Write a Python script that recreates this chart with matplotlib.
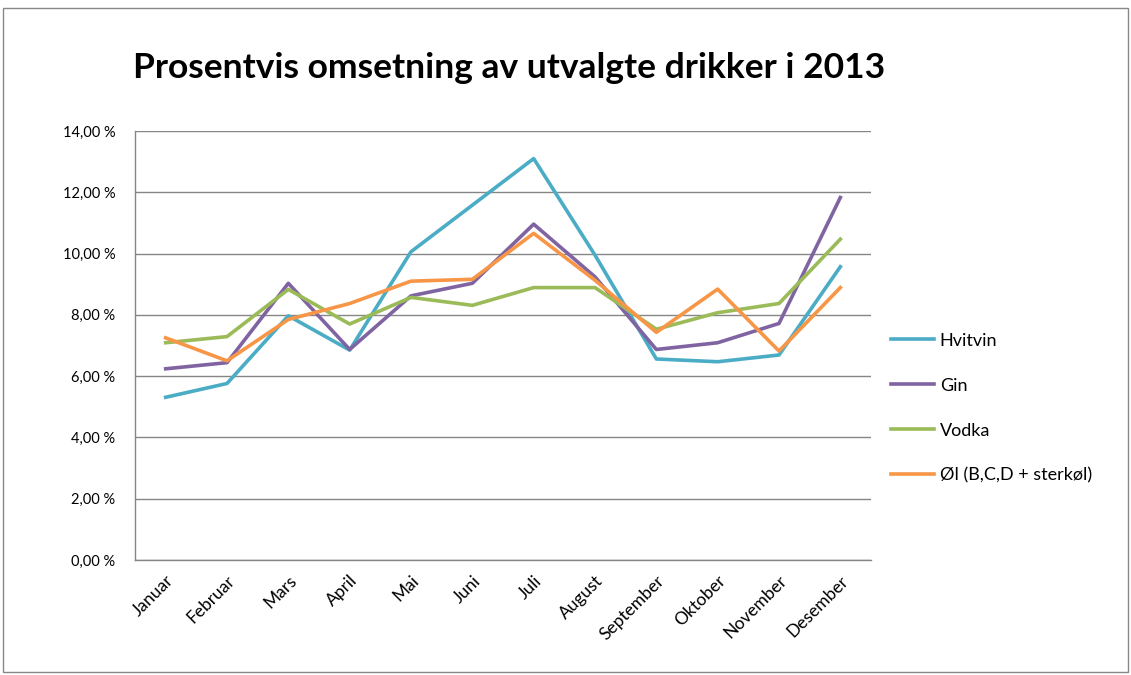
import matplotlib.pyplot as plt
from matplotlib.patches import Rectangle
from matplotlib.ticker import FuncFormatter

months = ['Januar', 'Februar', 'Mars', 'April', 'Mai', 'Juni', 'Juli',
          'August', 'September', 'Oktober', 'November', 'Desember']
hvitvin = [5.31, 5.76, 7.97, 6.85, 10.06, 11.58, 13.10, 9.95, 6.56, 6.47, 6.69, 9.57]
gin = [6.24, 6.44, 9.03, 6.87, 8.62, 9.03, 10.96, 9.24, 6.87, 7.09, 7.72, 11.83]
vodka = [7.09, 7.29, 8.83, 7.70, 8.57, 8.31, 8.89, 8.89, 7.53, 8.07, 8.37, 10.47]
ol = [7.25, 6.50, 7.85, 8.37, 9.10, 9.16, 10.66, 9.13, 7.43, 8.84, 6.82, 8.89]
series_names = ['Hvitvin', 'Gin', 'Vodka', 'Øl (B,C,D + sterkøl)']
y_ticks = [0, 2, 4, 6, 8, 10, 12, 14]

colors = ['#4BACC6', '#8064A2', '#9BBB59', '#F79646']

plt.rcParams['font.family'] = ['Lato', 'DejaVu Sans']

fig = plt.figure(figsize=(11.31, 6.75), dpi=100)
ax = fig.add_axes([135 / 1131, 115 / 675, 736 / 1131, 429 / 675])

# outer chart border
fig.patches.append(Rectangle((3 / 1131, 3 / 675), 1125 / 1131, 664 / 675,
                             transform=fig.transFigure, fill=False,
                             edgecolor='#888888', linewidth=1))

x = list(range(len(months)))
for vals, name, c in zip([hvitvin, gin, vodka, ol], series_names, colors):
    ax.plot(x, vals, color=c, linewidth=2.6, label=name)

ax.set_xlim(-0.5, len(months) - 0.5)
ax.set_ylim(0, 14)
ax.set_yticks(y_ticks)
ax.yaxis.set_major_formatter(FuncFormatter(lambda v, p: f'{v:.2f} %'.replace('.', ',')))
ax.grid(axis='y', color='#868686', linewidth=1)
ax.set_axisbelow(True)

ax.set_xticks(x)
ax.set_xticklabels(months, rotation=45, ha='right', rotation_mode='anchor', fontsize=12.5)
ax.tick_params(axis='y', length=0, labelsize=10.5, colors='black', pad=14)
ax.tick_params(axis='x', length=0, colors='black', pad=9)

for side in ['top', 'right']:
    ax.spines[side].set_visible(False)
for side in ['left', 'bottom']:
    ax.spines[side].set_color('#868686')
    ax.spines[side].set_linewidth(1)

fig.text(133 / 1131, 1 - 68 / 675, 'Prosentvis omsetning av utvalgte drikker i 2013',
         fontsize=25.5, fontweight='bold', va='center', ha='left')

ax.legend(loc='center left', bbox_to_anchor=(1.005, 0.354), frameon=False,
          fontsize=13, handlelength=2.4, handletextpad=0.3, labelspacing=1.6)

fig.savefig('out.png', dpi=100)
